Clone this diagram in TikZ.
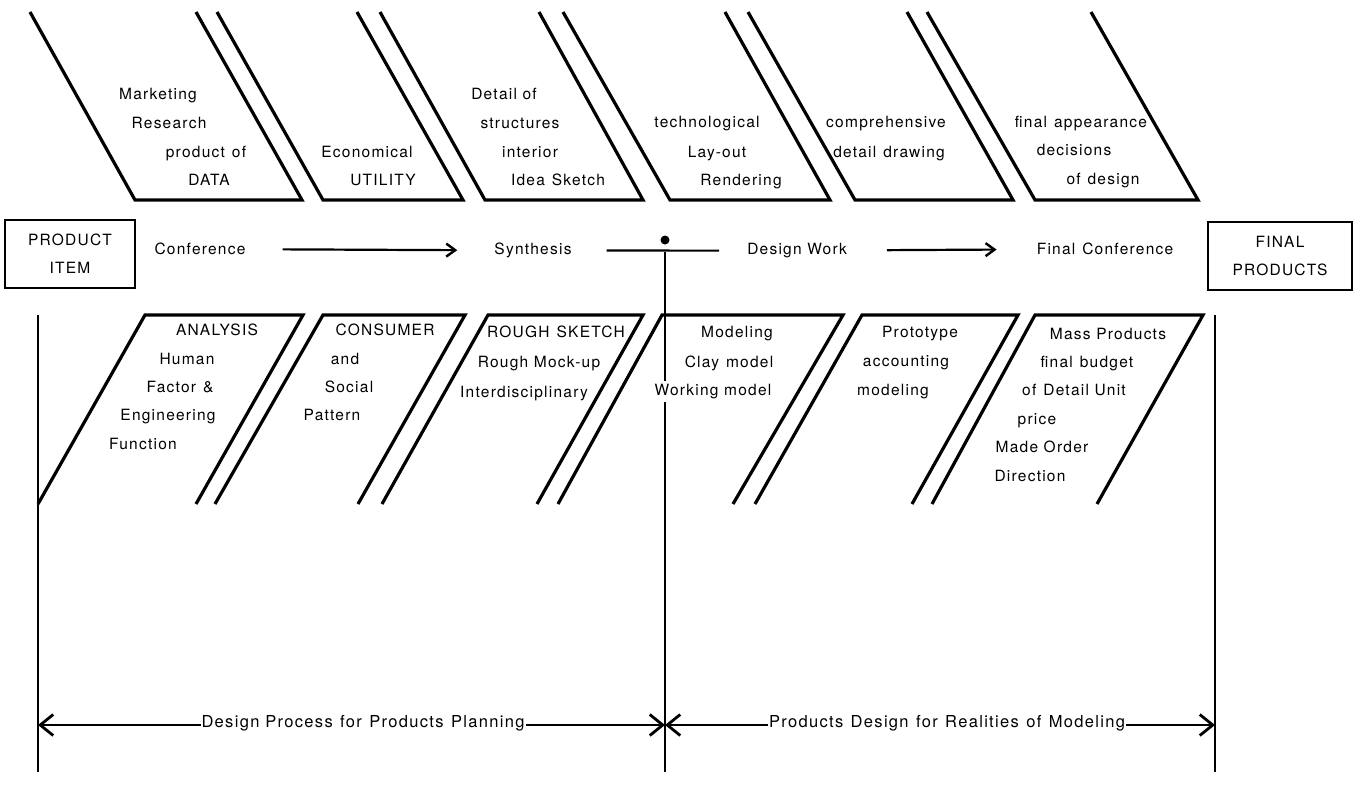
\documentclass[tikz,border=0pt]{standalone}
\usepackage{fontspec}
\setmainfont{TeX Gyre Heros}[LetterSpace=8]
\usetikzlibrary{arrows.meta}
\newcommand{\gap}{\hspace{0.45em}}
\begin{document}
\begin{tikzpicture}[x=1pt,y=-1pt,
  fish/.style={line width=3.2pt, line join=miter},
  rule/.style={line width=2pt},
  lbl/.style={inner sep=0pt, anchor=mid, font=\fontsize{15.5}{18}\selectfont},
  box/.style={draw, line width=2.4pt, minimum width=130pt, minimum height=68pt,
    align=center, inner sep=0pt, font=\fontsize{15.5}{28}\selectfont},
  flow/.style={line width=2.2pt, -{Straight Barb[length=9pt,width=13pt,line width=2.4pt]}},
  dim/.style={line width=2pt,
    {Straight Barb[length=13pt,width=21pt,line width=2.8pt]}-{Straight Barb[length=13pt,width=21pt,line width=2.8pt]}},
]
\useasboundingbox (0,0) rectangle (1359,788);

% upper bones: open at the top, slanted sides with a flat base
\draw[fish] (30,12)  -- (135,200)  -- (302,200)  -- (196,12);
\draw[fish] (217,12) -- (323,200)  -- (463,200)  -- (357,12);
\draw[fish] (380,12) -- (485,200)  -- (643,200)  -- (539,12);
\draw[fish] (563,12) -- (670,200)  -- (830,200)  -- (725,12);
\draw[fish] (748,12) -- (855,200)  -- (1013,200) -- (907,12);
\draw[fish] (927,12) -- (1035,200) -- (1198,200) -- (1091,12);

% lower bones: flat top, open at the bottom
\draw[fish] (38,504)  -- (145,315)  -- (303,315)  -- (196,504);
\draw[fish] (215,504) -- (323,315)  -- (465,315)  -- (358,504);
\draw[fish] (382,504) -- (488,315)  -- (643,315)  -- (537,504);
\draw[fish] (558,504) -- (662,315)  -- (843,315)  -- (733,504);
\draw[fish] (755,504) -- (862,315)  -- (1018,315) -- (912,504);
\draw[fish] (932,504) -- (1035,315) -- (1203,315) -- (1097,504);

% upper labels
\node[lbl] (t1a) at (158,97)  {Marketing};
\node[lbl] (t1b) at (169,126) {Research};
\node[lbl] (t1c) at (206,155) {product\gap of};
\node[lbl] (t1d) at (209,183) {DATA};
\node[lbl] (t2a) at (367,155) {Economical};
\node[lbl] (t2b) at (383,183) {UTILITY};
\node[lbl] (t3a) at (504,97)  {Detail of};
\node[lbl] (t3b) at (520,126) {structures};
\node[lbl] (t3c) at (530,155) {interior};
\node[lbl] (t3d) at (558,183) {Idea\gap Sketch};
\node[lbl] (t4a) at (707,125) {technological};
\node[lbl] (t4b) at (717,155) {Lay-out};
\node[lbl] (t4c) at (741,183) {Rendering};
\node[lbl] (t5a) at (886,125) {comprehensive};
\node[lbl] (t5b) at (889,155) {detail\gap drawing};
\node[lbl] (t6a) at (1081,125) {final\gap appearance};
\node[lbl] (t6b) at (1074,153) {decisions};
\node[lbl] (t6c) at (1103,182) {of\gap design};

% main spine
\node[box] (item) at (70,254) {PRODUCT\\ITEM};
\node[box, minimum width=144pt] (final) at (1280,256) {FINAL\\PRODUCTS};
\node[lbl] (conf)  at (200,252) {Conference};
\node[lbl] (synth) at (533,252) {Synthesis};
\node[lbl] (dwork) at (797,252) {Design Work};
\node[lbl] (fconf) at (1105,252) {Final\gap Conference};
\draw[flow, shorten <=37pt, shorten >=37pt] (conf) -- (synth);
\draw[rule, line width=2.2pt, shorten <=35pt, shorten >=28pt] (synth) -- (dwork);
\draw[flow, shorten <=40pt, shorten >=40pt] (dwork) -- (fconf);
\node[circle, fill, inner sep=0pt, minimum size=9pt] (dot) at (665,240) {};

% vertical rules
\coordinate (lt) at (38,315);   \coordinate (lb) at (38,772);
\coordinate (mt) at (665,252);  \coordinate (mb) at (665,772);
\coordinate (rt) at (1215,315); \coordinate (rb) at (1215,772);
\draw[rule] (lt) -- (lb);
\draw[rule] (mt) -- (mb);
\draw[rule] (rt) -- (rb);

% lower labels
\node[lbl] (b1a) at (217,333) {ANALYSIS};
\node[lbl] (b1b) at (187,362) {Human};
\node[lbl] (b1c) at (180,390) {Factor\gap \&};
\node[lbl] (b1d) at (168,418) {Engineering};
\node[lbl] (b1e) at (143,447) {Function};
\node[lbl] (b2a) at (385,333) {CONSUMER};
\node[lbl] (b2b) at (345,362) {and};
\node[lbl] (b2c) at (349,390) {Social};
\node[lbl] (b2d) at (332,418) {Pattern};
\node[lbl] (b3a) at (556,335) {ROUGH\gap SKETCH};
\node[lbl] (b3b) at (539,365) {Rough Mock-up};
\node[lbl] (b3c) at (524,395) {Interdisciplinary};
\node[lbl] (b4a) at (737,335) {Modeling};
\node[lbl] (b4b) at (729,365) {Clay\gap model};
\node[lbl, fill=white, inner ysep=3pt] (b4c) at (713,393) {Working model};
\node[lbl] (b5a) at (920,335) {Prototype};
\node[lbl] (b5b) at (906,364) {accounting};
\node[lbl] (b5c) at (893,393) {modeling};
\node[lbl] (b6a) at (1108,337) {Mass Products};
\node[lbl] (b6b) at (1087,365) {final\gap budget};
\node[lbl] (b6c) at (1074,393) {of\gap Detail Unit};
\node[lbl] (b6d) at (1037,422) {price};
\node[lbl] (b6e) at (1042,450) {Made Order};
\node[lbl] (b6f) at (1030,479) {Direction};

% span dimensions
\coordinate (dl) at (38,725);
\coordinate (dm) at (665,725);
\coordinate (dr) at (1215,725);
\draw[dim] (dl) -- (dm);
\draw[dim] (dm) -- (dr);
\node[lbl, fill=white, inner xsep=1pt, inner ysep=3pt, font=\fontsize{16.5}{18}\selectfont]
  (span1) at (363,725) {Design Process\gap for\gap Products\gap Planning};
\node[lbl, fill=white, inner xsep=1pt, inner ysep=3pt, font=\fontsize{16.5}{18}\selectfont]
  (span2) at (947,725) {Products\gap Design\gap for\gap Realities\gap of\gap Modeling};
\end{tikzpicture}
\end{document}
